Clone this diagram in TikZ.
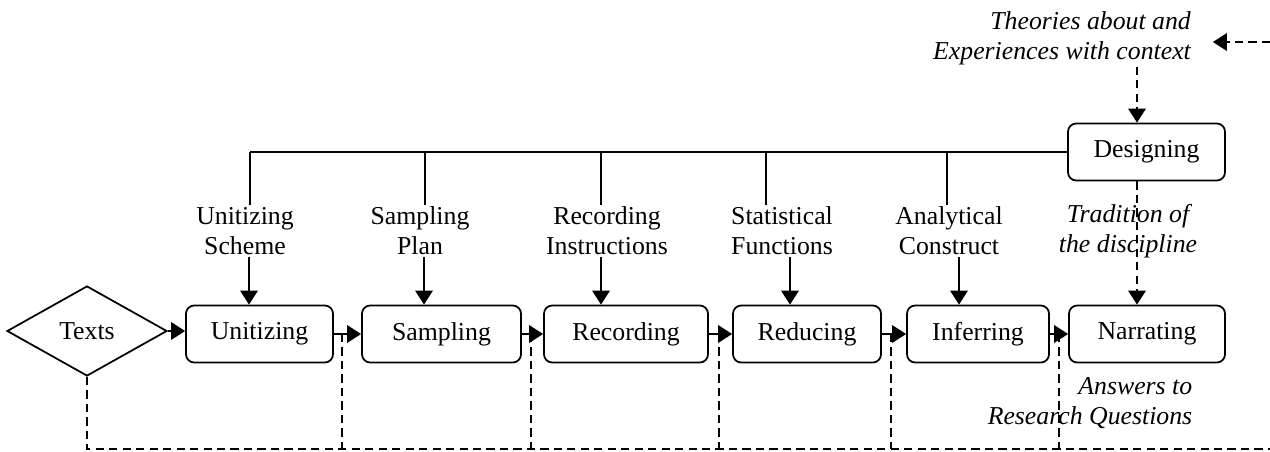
\documentclass[tikz,border=0pt]{standalone}
\usepackage{fontspec}
\setmainfont{Liberation Serif}
\usetikzlibrary{shapes.geometric,arrows.meta,calc}

\begin{document}
\begin{tikzpicture}[x=0.03cm,y=-0.03cm,line width=1.5pt,
		every node/.style={font=\fontsize{22}{25.5}\selectfont},
		stage/.style={draw,rounded corners=7pt,minimum height=1.71cm,inner sep=0pt},
		lab/.style={align=center,inner sep=1pt},
		note/.style={font=\fontsize{22}{25.5}\selectfont\itshape,inner sep=1pt},
		feed/.style={dash pattern=on 7pt off 4.5pt},
		arr/.style={-{Triangle[length=12pt,width=15pt]}}]
		\useasboundingbox (0,0) rectangle (1270,451);
		% stages
		\node[draw,diamond,minimum width=4.8cm,minimum height=2.7cm,inner sep=0pt] (texts) at (87,331) {Texts};
		\node[stage,minimum width=4.41cm] (unit) at (259.5,334) {Unitizing};
		\node[stage,minimum width=4.77cm] (samp) at (441.5,334) {Sampling};
		\node[stage,minimum width=4.92cm] (rec) at (626,334) {Recording};
		\node[stage,minimum width=4.44cm] (red) at (807,334) {Reducing};
		\node[stage,minimum width=4.26cm] (inf) at (978,334) {Inferring};
		\node[stage,minimum width=4.68cm] (nar) at (1147,334) {Narrating};
		\node[stage,minimum width=4.71cm] (des) at (1146.5,152) {Designing};
		% labels
		\node[lab] (scheme) at (245,231) {Unitizing\\Scheme};
		\node[lab] (plan) at (420,231) {Sampling\\Plan};
		\node[lab] (instr) at (607,231) {Recording\\Instructions};
		\node[lab] (func) at (782,231) {Statistical\\Functions};
		\node[lab] (constr) at (949,231) {Analytical\\Construct};
		% notes
		\node[note,align=right] (theo) at (1062,38) {Theories about and\\Experiences with context};
		\node[note,align=center] (trad) at (1128,231) {Tradition of\\the discipline};
		\node[note,align=right] (answ) at (1090,403) {Answers to\\Research Questions};
		% branch points
		\coordinate (b1) at (250,152);
		\coordinate (b2) at (425,152);
		\coordinate (b3) at (601,152);
		\coordinate (b4) at (766,152);
		\coordinate (b5) at (947,152);
		\coordinate (a1) at (249,0);
		\coordinate (a2) at (424,0);
		\coordinate (a3) at (601,0);
		\coordinate (a4) at (790,0);
		\coordinate (a5) at (959,0);
		\coordinate (tx) at (1137,0);
		% feedback points
		\coordinate (f1) at (342,334);
		\coordinate (f2) at (531,334);
		\coordinate (f3) at (719,334);
		\coordinate (f4) at (891,334);
		\coordinate (f5) at (1059,334);
		\coordinate (loopR) at (1270,449);
		\coordinate (loopT) at (1270,42);
		% design lines
		\draw (des.west) -- (b1);
		\draw (b1) -- (b1 |- scheme.north);
		\draw (b2) -- (b2 |- plan.north);
		\draw (b3) -- (b3 |- instr.north);
		\draw (b4) -- (b4 |- func.north);
		\draw (b5) -- (b5 |- constr.north);
		\draw[arr] (scheme.south -| a1) -- (unit.north -| a1);
		\draw[arr] (plan.south -| a2) -- (samp.north -| a2);
		\draw[arr] (instr.south -| a3) -- (rec.north -| a3);
		\draw[arr] (func.south -| a4) -- (red.north -| a4);
		\draw[arr] (constr.south -| a5) -- (inf.north -| a5);
		% flow
		\draw[arr] (texts.east) -- (texts.east -| unit.west);
		\draw[arr] (unit.east) -- (samp.west);
		\draw[arr] (samp.east) -- (rec.west);
		\draw[arr] (rec.east) -- (red.west);
		\draw[arr] (red.east) -- (inf.west);
		\draw[arr] (inf.east) -- (nar.west);
		% feedback
		\draw[feed] (texts.south) |- (loopR);
		\draw[feed] (f1) -- (f1 |- loopR);
		\draw[feed] (f2) -- (f2 |- loopR);
		\draw[feed] (f3) -- (f3 |- loopR);
		\draw[feed] (f4) -- (f4 |- loopR);
		\draw[feed] (f5) -- (f5 |- loopR);
		\draw[feed,arr] (loopT) -- ($(theo.east |- loopT)+(20,0)$);
		\draw[feed,arr] (theo.south -| tx) -- (des.north -| tx);
		\draw[feed,arr] (des.south -| tx) -- (nar.north -| tx);
	\end{tikzpicture}
\end{document}
